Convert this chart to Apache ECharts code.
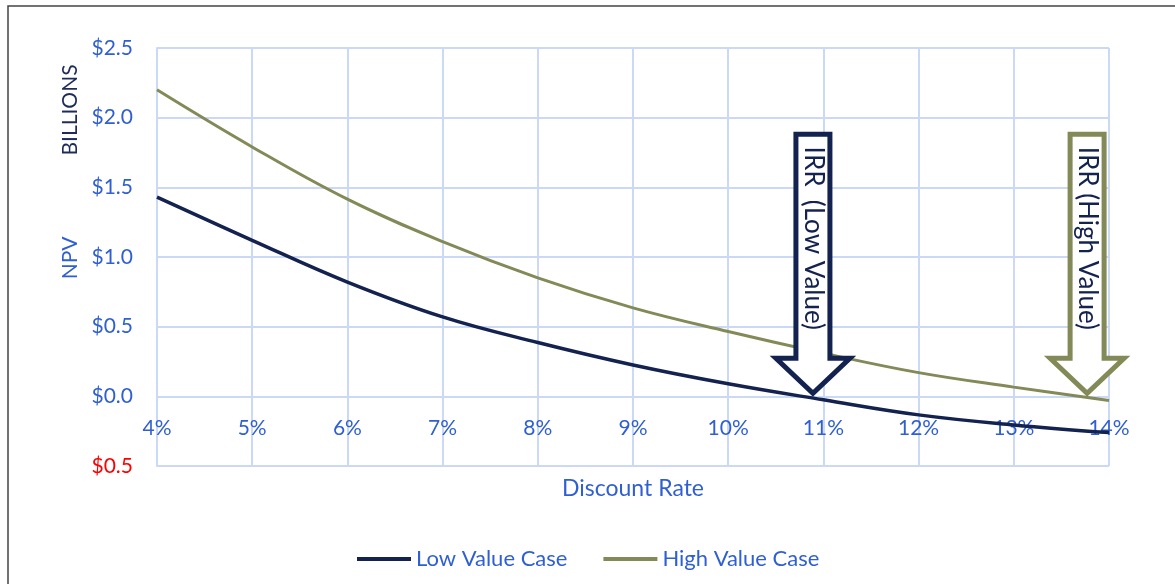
<!DOCTYPE html>
<html>
<head>
<meta charset="utf-8">
<script src="https://cdn.jsdelivr.net/npm/echarts@6/dist/echarts.min.js"></script>
<style>
  html, body { margin: 0; padding: 0; background: #fff; }
  #main { width: 1175px; height: 584px; }
</style>
</head>
<body>
<div id="main"></div>
<script>
var chartDom = document.getElementById('main');
var myChart = echarts.init(chartDom);
var option;

// discount rate (%)
const rates = [4, 5, 6, 7, 8, 9, 10, 11, 12, 13, 14];
// NPV in $ billions
const lowValue = [1.43, 1.12, 0.82, 0.57, 0.386, 0.225, 0.09, -0.025, -0.133, -0.205, -0.26];
const highValue = [2.20, 1.79, 1.415, 1.11, 0.85, 0.635, 0.465, 0.31, 0.17, 0.066, -0.03];
// IRR where each arrow points
const irrLow = 10.89;
const irrHigh = 13.77;

const blue = '#2f5fd3';
const navy = '#13224f';
const olive = '#838a58';
const gridColor = '#cbd9f6';
const font = 'Lato, "Noto Sans", sans-serif';

option = {
  animation: false,
  grid: {
    left: 157,
    right: 66,
    top: 48,
    bottom: 118
  },
  legend: {
    bottom: 9,
    left: 352,
    icon: 'rect',
    itemWidth: 54,
    itemHeight: 4,
    itemGap: 36,
    textStyle: { color: blue, fontSize: 22, fontFamily: font },
    data: ['Low Value Case', 'High Value Case']
  },
  xAxis: {
    type: 'value',
    min: 4,
    max: 14,
    interval: 1,
    // axis sits on the $0 line (one step up from the bottom)
    offset: -69.67,
    axisLine: { show: true, onZero: false, lineStyle: { color: gridColor, width: 2 } },
    axisTick: { show: false },
    axisLabel: {
      color: blue,
      fontSize: 21,
      fontFamily: font,
      margin: 21,
      formatter: v => v + '%'
    },
    splitLine: { show: true, lineStyle: { color: gridColor, width: 2 } }
  },
  yAxis: {
    type: 'value',
    min: -0.5,
    max: 2.5,
    interval: 0.5,
    axisLine: { show: true, lineStyle: { color: gridColor, width: 2 } },
    axisTick: { show: false },
    axisLabel: {
      fontSize: 21,
      fontFamily: font,
      margin: 24,
      color: v => (v < 0 ? '#ff0000' : blue),
      formatter: v => '$' + Math.abs(v).toFixed(1)
    },
    splitLine: { show: true, lineStyle: { color: gridColor, width: 2 } }
  },
  series: [
    {
      name: 'Low Value Case',
      type: 'line',
      smooth: 0.4,
      symbol: 'none',
      lineStyle: { color: navy, width: 3.5 },
      itemStyle: { color: navy },
      data: rates.map((r, i) => [r, lowValue[i]]),
      z: 3
    },
    {
      name: 'High Value Case',
      type: 'line',
      smooth: 0.4,
      symbol: 'none',
      lineStyle: { color: olive, width: 3 },
      itemStyle: { color: olive },
      data: rates.map((r, i) => [r, highValue[i]]),
      z: 2
    }
  ]
};

option && myChart.setOption(option);

function arrow(id, irr, color, label) {
  const p = myChart.convertToPixel({ gridIndex: 0 }, [irr, 0]);
  const tx = p[0], ty = p[1];
  return [
    {
      id: id,
      type: 'polygon',
      z: 10,
      shape: {
        points: [
          [tx - 17, ty - 262], [tx + 17, ty - 262], [tx + 17, ty - 38],
          [tx + 37, ty - 38], [tx, ty - 3], [tx - 37, ty - 38], [tx - 17, ty - 38]
        ]
      },
      style: { fill: '#fff', stroke: color, lineWidth: 5, lineJoin: 'miter' }
    },
    {
      id: id + '-text',
      type: 'text',
      z: 11,
      x: tx,
      y: ty - 158,
      rotation: -Math.PI / 2,
      style: {
        text: label,
        fill: navy,
        font: '26px ' + font,
        align: 'center',
        verticalAlign: 'middle'
      }
    }
  ];
}

function drawExtras() {
  myChart.setOption({
    graphic: [
      {
        id: 'frame',
        type: 'rect',
        silent: true,
        shape: { x: 8, y: 6, width: 1300, height: 700 },
        style: { fill: 'none', stroke: '#444', lineWidth: 1.5 }
      },
      {
        id: 'billions',
        type: 'text',
        x: 70,
        y: 110,
        rotation: Math.PI / 2,
        style: { text: 'BILLIONS', fill: '#1f2b58', font: '21px ' + font, align: 'center', verticalAlign: 'middle' }
      },
      {
        id: 'npv',
        type: 'text',
        x: 70,
        y: 258,
        rotation: Math.PI / 2,
        style: { text: 'NPV', fill: blue, font: '21px ' + font, align: 'center', verticalAlign: 'middle' }
      },
      {
        id: 'xname',
        type: 'text',
        x: 633,
        y: 489,
        style: { text: 'Discount Rate', fill: blue, font: '23px ' + font, align: 'center', verticalAlign: 'middle' }
      }
    ].concat(
      arrow('irrLow', irrLow, navy, 'IRR  (Low Value)'),
      arrow('irrHigh', irrHigh, olive, 'IRR (High Value)')
    )
  });
}
drawExtras();

window.onresize = function() {
  myChart.resize();
  drawExtras();
};
</script>
</body>
</html>
